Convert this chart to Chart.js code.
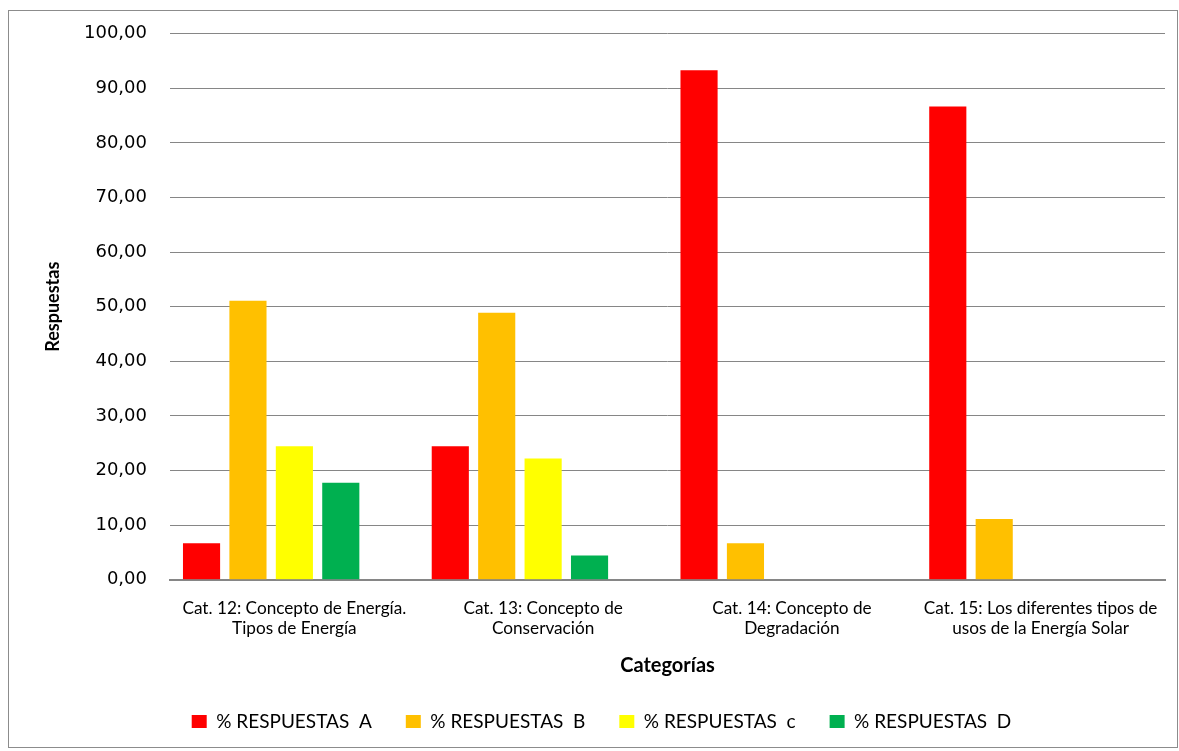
<!DOCTYPE html>
<html lang="es">
<head>
    <meta charset="UTF-8">
    <title>Respuestas por categoría</title>
    <script src="https://cdn.jsdelivr.net/npm/chart.js"></script>
    <style>
        body { margin: 0; background: #fff; }
        #wrap { position: relative; width: 1179px; height: 751px; }
        #frame {
            position: absolute; left: 8px; top: 10px; width: 1168px; height: 736px;
            border: 1px solid #8c8c8c; pointer-events: none;
        }
    </style>
</head>
<body>

    <div id="wrap">
        <canvas id="myChart"></canvas>
        <div id="frame"></div>
    </div>

    <script>

        // Data
        const categories = [
            ['Cat. 12: Concepto de Energía.', 'Tipos de Energía'],
            ['Cat. 13: Concepto de', 'Conservación'],
            ['Cat. 14: Concepto de', 'Degradación'],
            ['Cat. 15: Los diferentes tipos de', 'usos de la Energía Solar']
        ];
        const respuestasA = [6.67, 24.44, 93.33, 86.67];
        const respuestasB = [51.11, 48.89, 6.67, 11.11];
        const respuestasC = [24.44, 22.22, 0, 0];
        const respuestasD = [17.78, 4.44, 0, 0];
        // empty fifth series in the original sheet (keeps the bar slots)
        const respuestasVacia = [null, null, null, null];

        const seriesNames = ['% RESPUESTAS  A', '% RESPUESTAS  B', '% RESPUESTAS  c', '% RESPUESTAS  D'];
        const seriesColors = ['#FF0000', '#FFC000', '#FFFF00', '#00B050'];

        const yMin = 0, yMax = 100, yStep = 10;

        const narrow = "Lato, 'Open Sans', sans-serif";

        // Setup Block
        const data = {
            labels: categories,
            datasets: [respuestasA, respuestasB, respuestasC, respuestasD].map((values, i) => ({
                label: seriesNames[i],
                data: values,
                backgroundColor: seriesColors[i],
                borderWidth: 0,
                categoryPercentage: 0.933,
                barPercentage: 0.8
            })).concat([{
                label: '',
                data: respuestasVacia,
                backgroundColor: '#ffffff',
                categoryPercentage: 0.933,
                barPercentage: 0.8
            }])
        };

        // Config Block
        const config = {
            type: 'bar',
            data,
            options: {
                responsive: true,
                maintainAspectRatio: false,
                animation: false,
                layout: { padding: { left: 38, right: 14, top: 30, bottom: 23 } },
                scales: {
                    x: {
                        grid: { display: false, drawTicks: false },
                        border: { display: true, color: '#868686', width: 2 },
                        ticks: {
                            color: '#000',
                            padding: 18,
                            maxRotation: 0,
                            autoSkip: false,
                            font: { family: narrow, size: 17.2, lineHeight: 1.2 }
                        },
                        title: {
                            display: true,
                            text: 'Categorías',
                            color: '#000',
                            padding: { top: -3, bottom: 0 },
                            font: { family: narrow, size: 20, weight: 'bold' }
                        }
                    },
                    y: {
                        min: yMin,
                        max: yMax,
                        grid: { color: '#868686', lineWidth: 1, drawTicks: false },
                        border: { display: false },
                        ticks: {
                            stepSize: yStep,
                            padding: 23,
                            color: '#000',
                            font: { family: "'DejaVu Sans', sans-serif", size: 18 },
                            callback: v => v.toFixed(2).replace('.', ',')
                        },
                        title: {
                            display: true,
                            text: 'Respuestas',
                            color: '#000',
                            padding: { top: 4, bottom: 0 },
                            font: { family: narrow, size: 18, weight: 'bold' }
                        },
                        afterFit: scale => { scale.width = 132; }
                    }
                },
                plugins: {
                    legend: {
                        position: 'bottom',
                        maxHeight: 50,
                        labels: {
                            boxWidth: 15,
                            boxHeight: 13,
                            padding: 34,
                            color: '#000',
                            font: { family: narrow, size: 19 },
                            filter: item => item.text !== ''
                        }
                    },
                    tooltip: { enabled: false }
                }
            }
        };

        // Render block
        const myChart = new Chart(
            document.getElementById('myChart'),
            config
        );

    </script>

</body>
</html>
